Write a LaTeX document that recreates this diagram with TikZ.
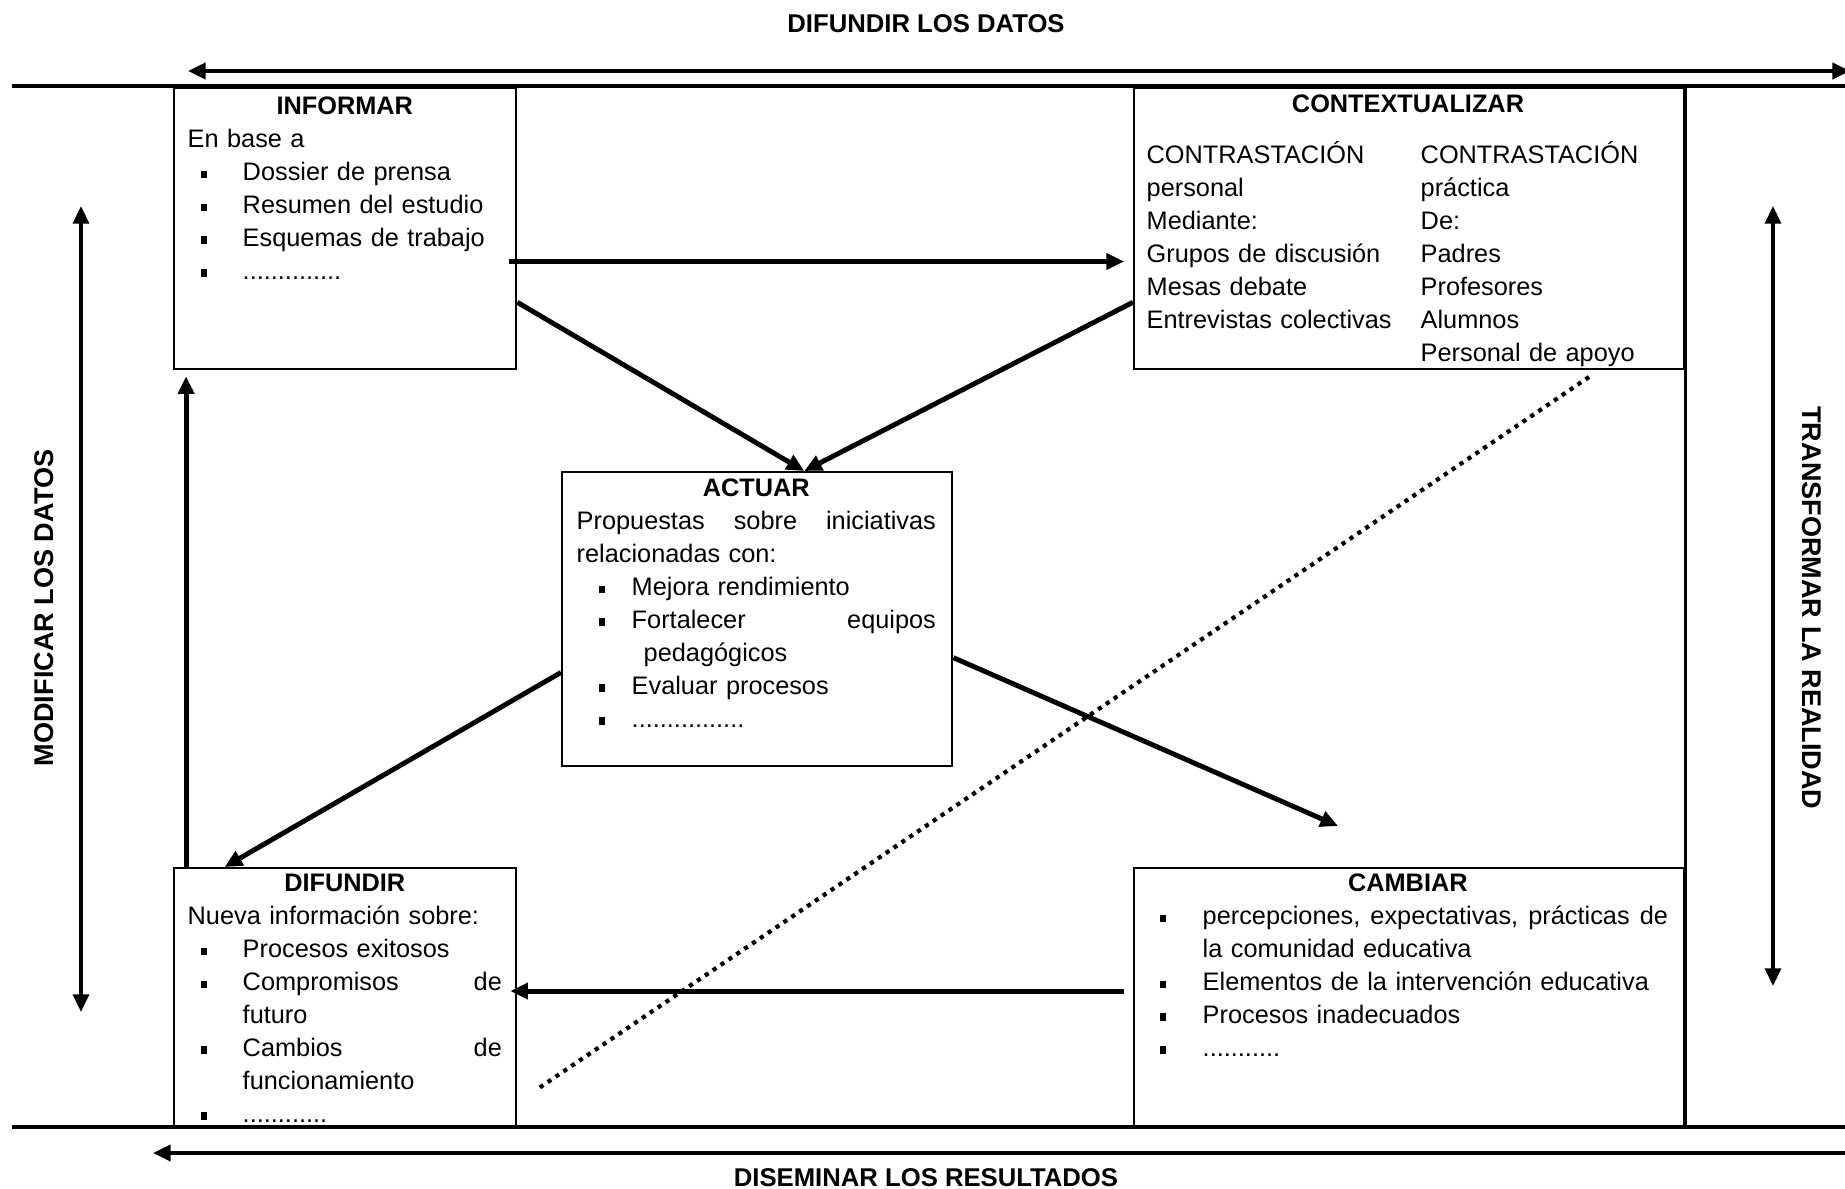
\documentclass[tikz,border=0pt]{standalone}
\usepackage{fontspec}
\setmainfont{Liberation Sans}
\usetikzlibrary{arrows.meta,calc}

\newcommand{\sq}{\rule[0.7pt]{1.8pt}{2.2pt}}
\newcommand{\bitem}[2][0.13cm]{\hspace*{#1}\makebox[\dimexpr0.55cm-#1\relax][l]{\sq}#2}
\newcommand{\sline}[1]{\makebox[\dimexpr\linewidth-0.55cm\relax][s]{#1}}

\begin{document}
\begin{tikzpicture}[x=0.01cm,y=-0.01cm,
  >={Triangle[length=5pt,width=4.5pt]},
  box/.style={draw,line width=0.6pt,inner sep=0,anchor=north west},
  txt/.style={inner sep=0,anchor=base west,align=left,font=\fontsize{7.2}{9.36}\selectfont},
  lbl/.style={inner sep=0,font=\fontsize{7.3}{9}\selectfont\bfseries},
  arr/.style={line width=1.4pt,->},
  dotline/.style={line width=1.2pt,dash pattern=on 1.2pt off 1.5pt}]

\useasboundingbox (0,0) rectangle (1845,1189);

% outer frame
\draw[line width=1pt] (12,86) -- (1845,86);
\draw[line width=1pt] (12,1127) -- (1845,1127);
\draw[line width=1.3pt,<->] (188,71) -- (1850,71);
\draw[line width=1.3pt,<-] (153,1153) -- (1850,1153);
\coordinate (ml1) at (81,206);
\coordinate (ml2) at (81,1012);
\coordinate (mr1) at (1773,206);
\coordinate (mr2) at (1773,986);
\draw[line width=1pt,<->] (ml1) -- (ml2);
\draw[line width=1pt,<->] (mr1) -- (mr2);

\node[lbl,anchor=base] (tdif) at (926,33) {DIFUNDIR LOS DATOS};
\node[lbl,anchor=base] (tdis) at (926,1187) {DISEMINAR LOS RESULTADOS};
\node[lbl,font=\fontsize{7.7}{9}\selectfont\bfseries,rotate=90] (tmod) at (44,608) {MODIFICAR LOS DATOS};
\node[lbl,font=\fontsize{7.7}{9}\selectfont\bfseries,rotate=-90] (ttra) at (1812,608) {TRANSFORMAR LA REALIDAD};

% boxes
\node[box,minimum width=3.42cm,minimum height=2.81cm] (inf) at (173,87) {};
\node[box,minimum width=5.50cm,minimum height=2.81cm] (ctx) at (1133,87) {};
\node[box,minimum width=3.90cm,minimum height=2.94cm] (act) at (561,471) {};
\node[box,minimum width=3.42cm,minimum height=2.60cm] (dif) at (173,867) {};
\node[box,minimum width=5.50cm,minimum height=2.60cm] (cam) at (1133,867) {};
\draw[line width=0.6pt] (ctx.north east) -- (cam.south east);

% texts
\node[txt,text width=3.14cm] (inft) at (187,115) {\makebox[\linewidth]{\bfseries INFORMAR}\\
  En base a\\
  \bitem{Dossier de prensa}\\
  \bitem{Resumen del estudio}\\
  \bitem{Esquemas de trabajo}\\
  \bitem{..............}};

\node[txt,anchor=base,font=\fontsize{7.2}{9.36}\selectfont\bfseries] (ctxh) at (1408,113) {CONTEXTUALIZAR};
\node[txt,text width=2.7cm] (ctxl) at (1146,164) {CONTRASTACIÓN\\ personal\\ Mediante:\\
  Grupos de discusión\\ Mesas debate\\ Entrevistas colectivas};
\node[txt,text width=2.5cm] (ctxr) at (1420,164) {CONTRASTACIÓN\\ práctica\\ De:\\
  Padres\\ Profesores\\ Alumnos\\ Personal de apoyo};

\node[txt,text width=3.59cm] (actt) at (576,497) {\makebox[\linewidth]{\bfseries ACTUAR}\\
  \makebox[\linewidth][s]{Propuestas\hfill sobre\hfill iniciativas}\\
  relacionadas con:\\
  \bitem[0.22cm]{Mejora rendimiento}\\
  \bitem[0.22cm]{\sline{Fortalecer\hfill equipos}}\\
  \hspace*{0.67cm}pedagógicos\\
  \bitem[0.22cm]{Evaluar procesos}\\
  \bitem[0.22cm]{................}};

\node[txt,text width=3.14cm] (dift) at (187,892) {\makebox[\linewidth]{\bfseries DIFUNDIR}\\
  Nueva información sobre:\\
  \bitem{Procesos exitosos}\\
  \bitem{\sline{Compromisos\hfill de}}\\
  \hspace*{0.55cm}futuro\\
  \bitem{\sline{Cambios\hfill de}}\\
  \hspace*{0.55cm}funcionamiento\\
  \bitem{............}};

\node[txt,text width=5.2cm] (camt) at (1147,892) {\makebox[\linewidth]{\bfseries CAMBIAR}\\
  \bitem[0.12cm]{\sline{percepciones,\hfill expectativas,\hfill prácticas\hfill de}}\\
  \hspace*{0.55cm}la comunidad educativa\\
  \bitem[0.12cm]{Elementos de la intervención educativa}\\
  \bitem[0.12cm]{Procesos inadecuados}\\
  \bitem[0.12cm]{...........}};

% connectors
\coordinate (a1) at ($(inf.north east)!0.616!(inf.south east)$);
\draw[arr,shorten <=-0.08cm,shorten >=0.09cm] (a1) -- (a1 -| ctx.west);
\draw[arr] ($(inf.north east)!0.76!(inf.south east)$) -- ($(act.north west)!0.62!(act.north east)$);
\draw[arr] ($(ctx.north west)!0.76!(ctx.south west)$) -- ($(act.north west)!0.62!(act.north east)$);
\draw[arr] ($(act.north west)!0.68!(act.south west)$) -- ($(dif.north west)!0.15!(dif.north east)$);
\coordinate (c1) at (1338,826);
\draw[arr] ($(act.north east)!0.63!(act.south east)$) -- (c1);
\coordinate (b1) at ($(cam.north west)!0.473!(cam.south west)$);
\draw[arr,shorten <=0.09cm,shorten >=-0.07cm] (b1) -- (b1 -| dif.east);
\coordinate (u1) at ($(dif.north west)!0.038!(dif.north east)$);
\draw[arr,shorten >=0.06cm] (u1) -- (u1 |- inf.south);

% dotted diagonal
\coordinate (d1) at (1589,377);
\coordinate (d2) at (539,1088);
\draw[dotline] (d1) -- (d2);
\end{tikzpicture}
\end{document}
